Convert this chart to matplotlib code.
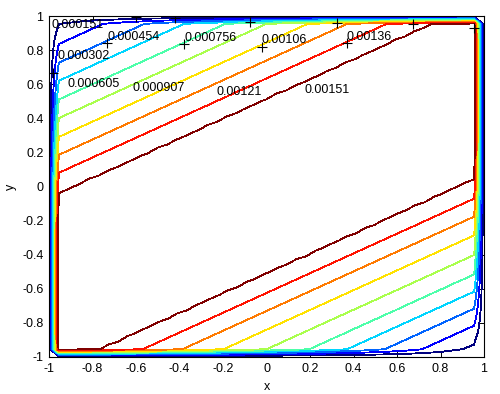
import numpy as np
import matplotlib
matplotlib.use('Agg')
import matplotlib.pyplot as plt
from matplotlib.colors import Normalize

plt.rcParams['font.family'] = ['Liberation Sans', 'DejaVu Sans']
plt.rcParams['font.size'] = 9

# contour levels, as written on the labels
levels = [0.000151, 0.000302, 0.000454, 0.000605, 0.000756,
          0.000907, 0.00106, 0.00121, 0.00136, 0.00151]
label_strs = ['0.000151', '0.000302', '0.000454', '0.000605', '0.000756',
              '0.000907', '0.00106', '0.00121', '0.00136', '0.00151']

# where each level line crosses the band, in u = y - slope*x
slope = 0.58
upper_u = [1.50, 1.39, 1.28, 1.175, 1.065, 0.955, 0.845, 0.74, 0.635, 0.52]
lower_u = [-1.47, -1.37, -1.27, -1.17, -1.07, -0.955, -0.84, -0.73, -0.625, -0.515]
peak = 0.00164
corner_val = 0.00003
n_grid = 45

# clabel text anchors (left, baseline) and the "+" marks
label_x = [-0.99, -0.96, -0.733, -0.917, -0.379, -0.618, -0.021, -0.228, 0.370, 0.177]
label_y = [0.93, 0.748, 0.86, 0.584, 0.854, 0.561, 0.842, 0.537, 0.86, 0.549]
plus_x = [-0.98, -0.6, -0.42, -0.733, -0.379, -0.076, -0.021, 0.326, 0.370, 0.675, 0.954]
plus_y = [0.666, 0.995, 0.99, 0.842, 0.836, 0.967, 0.818, 0.961, 0.842, 0.953, 0.928]

tick_vals = [-1, -0.8, -0.6, -0.4, -0.2, 0, 0.2, 0.4, 0.6, 0.8, 1]
tick_labels = ['-1', '-0.8', '-0.6', '-0.4', '-0.2', '0', '0.2', '0.4', '0.6', '0.8', '1']

# build the field: profile across the diagonal band, zero on the walls
u_knots = [-1.75] + lower_u + [-0.3, 0.3] + upper_u[::-1] + [1.75]
z_knots = [corner_val] + levels + [peak, peak] + levels[::-1] + [corner_val]

x = np.linspace(-1, 1, n_grid)
X, Y = np.meshgrid(x, x)
Z = np.interp(Y - slope * X, u_knots, z_knots)
Z[0, :] = 0
Z[-1, :] = 0
Z[:, 0] = 0
Z[:, -1] = 0

fig = plt.figure(figsize=(5, 3.94), dpi=100)
ax = fig.add_axes([0.098, 0.094, 0.87, 0.865])

cs = ax.contour(X, Y, Z, levels=levels, cmap='jet',
                norm=Normalize(levels[0], levels[-1]),
                linewidths=0.6, antialiased=False)

ax.plot(plus_x, plus_y, '+', color='black', markersize=7, mew=0.8)
for s, lx, ly in zip(label_strs, label_x, label_y):
    ax.text(lx, ly, s, ha='left', va='baseline', fontsize=9)

ax.set_xlim(-1, 1)
ax.set_ylim(-1, 1)
ax.set_xticks(tick_vals)
ax.set_xticklabels(tick_labels)
ax.set_yticks(tick_vals)
ax.set_yticklabels(tick_labels)
ax.tick_params(direction='in', top=True, right=True, length=4, width=0.7, pad=4)
for sp in ax.spines.values():
    sp.set_linewidth(0.8)

ax.set_xlabel('x', labelpad=5)
ax.set_ylabel('y', labelpad=4)

fig.savefig('out.png', dpi=100)
